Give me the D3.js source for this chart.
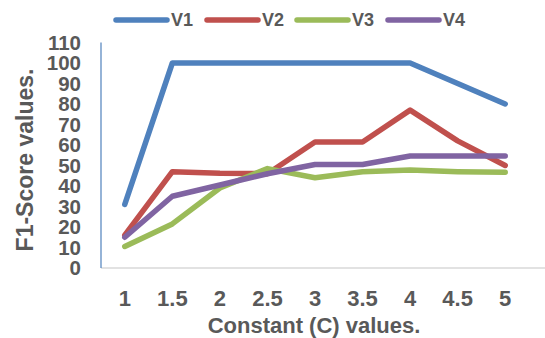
<!doctype html>
<html lang="en">
<head>
<style>
  body { margin: 0; background: #fff; }
  text { font-family: "Liberation Sans", Arial, sans-serif; font-weight: bold; fill: #595959; }
</style>
<script src="https://d3js.org/d3.v7.min.js"></script>
</head>
<body>
<svg width="545" height="338"></svg>
<script>
  const cValues = ["1", "1.5", "2", "2.5", "3", "3.5", "4", "4.5", "5"];
  const v1 = [31, 100, 100, 100, 100, 100, 100, 90, 80];
  const v2 = [16, 47, 46.2, 46, 61.5, 61.5, 77, 62, 50];
  const v3 = [10.5, 21.5, 39, 48.5, 44, 47, 47.8, 47, 46.7];
  const v4 = [15, 35, 40.5, 46, 50.5, 50.5, 54.6, 54.6, 54.6];
  const yTicks = [0, 10, 20, 30, 40, 50, 60, 70, 80, 90, 100, 110];

  const series = [
    { name: "V1", values: v1, color: "#4F81BD" },
    { name: "V2", values: v2, color: "#C0504D" },
    { name: "V3", values: v3, color: "#9BBB59" },
    { name: "V4", values: v4, color: "#8064A2" }
  ];

  const svg = d3.select("svg");
  const plotLeft = 101, plotRight = 529, plotTop = 42.5, plotBottom = 268;

  const x = d3.scalePoint().domain(cValues).range([plotLeft, plotRight]).padding(0.5);
  const y = d3.scaleLinear().domain([0, 110]).range([plotBottom, plotTop]);

  // x axis line
  svg.append("line")
    .attr("x1", plotLeft).attr("x2", 545)
    .attr("y1", y(0)).attr("y2", y(0))
    .attr("stroke", "#D9D9D9").attr("stroke-width", 1.5);

  // y axis line
  svg.append("line")
    .attr("x1", plotLeft).attr("x2", plotLeft)
    .attr("y1", y(110)).attr("y2", y(0))
    .attr("stroke", "#4F81BD").attr("stroke-width", 1.2);

  svg.selectAll(".ytick")
    .data(yTicks)
    .enter().append("text")
    .attr("x", 81)
    .attr("y", d => y(d))
    .attr("dy", "0.36em")
    .attr("text-anchor", "end")
    .style("font-size", "20.5px")
    .text(d => d);

  svg.selectAll(".xtick")
    .data(cValues)
    .enter().append("text")
    .attr("x", d => x(d))
    .attr("y", 298)
    .attr("dy", "0.36em")
    .attr("text-anchor", "middle")
    .style("font-size", "22px")
    .text(d => d);

  svg.append("text")
    .attr("x", 314).attr("y", 325)
    .attr("dy", "0.36em")
    .attr("text-anchor", "middle")
    .style("font-size", "22px")
    .text("Constant (C) values.");

  svg.append("text")
    .attr("transform", "translate(25,160) rotate(-90)")
    .attr("dy", "0.36em")
    .attr("text-anchor", "middle")
    .style("font-size", "23px")
    .text("F1-Score values.");

  const line = d3.line()
    .x((d, i) => x(cValues[i]))
    .y(d => y(d));

  series.forEach(s => {
    svg.append("path")
      .datum(s.values)
      .attr("d", line)
      .attr("fill", "none")
      .attr("stroke", s.color)
      .attr("stroke-width", 5.5)
      .attr("stroke-linecap", "round")
      .attr("stroke-linejoin", "round");
  });

  // legend
  const legendX = [116, 207, 297, 388];
  const lg = svg.selectAll(".legend")
    .data(series)
    .enter().append("g")
    .attr("transform", (d, i) => `translate(${legendX[i]},20)`);
  lg.append("line")
    .attr("x1", 0).attr("x2", 51)
    .attr("stroke", d => d.color)
    .attr("stroke-width", 5.5)
    .attr("stroke-linecap", "round");
  lg.append("text")
    .attr("x", 55)
    .attr("dy", "0.36em")
    .style("font-size", "18px")
    .text(d => d.name);
</script>
</body>
</html>
